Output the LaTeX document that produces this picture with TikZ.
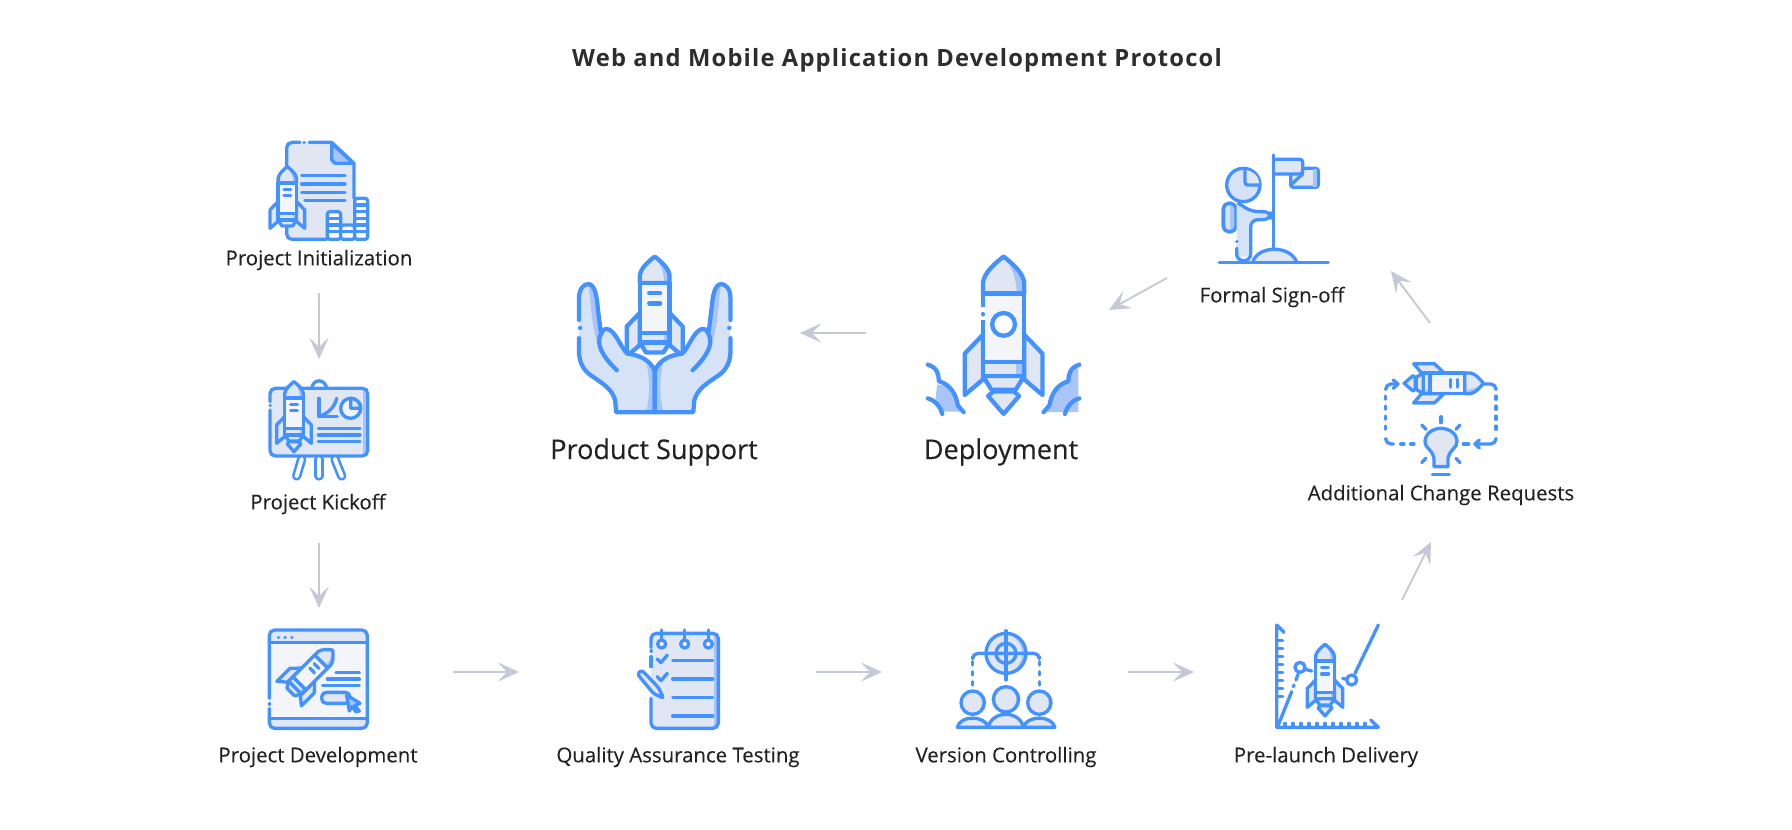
\documentclass[tikz,border=0pt]{standalone}
\usepackage{fontspec}
\setmainfont{Open Sans}
\newfontfamily\labelfont{Open Sans}[FakeBold=0.3]
\usetikzlibrary{arrows.meta}
\definecolor{iconblue}{HTML}{4492FF}
\definecolor{paleblue}{HTML}{E1E6F3}
\definecolor{mistgrey}{HTML}{F4F5F8}
\definecolor{midblue}{HTML}{A9C4F6}
\definecolor{handblue}{HTML}{D6E2F5}
\definecolor{arrowgrey}{HTML}{C5C8D6}
\definecolor{inkgrey}{HTML}{222222}
\tikzset{
  iconline/.style={draw=iconblue,line width=2.5pt,line cap=round,line join=round},
  iconbig/.style={iconline/.append style={line width=3.2pt}},
  dashline/.style={iconline,dash pattern=on 2.5pt off 5pt},
  flow/.style={draw=arrowgrey,line width=1.4pt,-{Stealth[length=16pt,width=14.5pt,inset=7pt]}},
  lbl/.style={inner sep=0.75pt,text=inkgrey,font=\labelfont\fontsize{15.3}{18}\selectfont},
  biglbl/.style={inner sep=0.75pt,text=inkgrey,font=\labelfont\fontsize{20.3}{24}\selectfont},
}
\newcommand{\rockethull}[1]{\begin{scope}[#1]
    \draw[iconline,fill=paleblue] (-60,227) -- (-113,282) -- (-113,402) -- (-60,357) -- cycle;
    \draw[iconline,fill=paleblue] (60,227) -- (113,282) -- (113,402) -- (60,357) -- cycle;
    \draw[iconline,fill=paleblue] (-60,347) -- (-35,387) -- (35,387) -- (60,347) -- cycle;
    \fill[paleblue] (-60,107) -- (-60,75) .. controls (-55,45) and (-25,20) .. (0,0) .. controls (25,20) and (55,45) .. (60,75) -- (60,107) -- cycle;
    \fill[midblue] (0,0) .. controls (25,20) and (55,45) .. (60,75) -- (60,107) -- (38,107) .. controls (38,60) and (20,25) .. (0,0) -- cycle;
    \draw[iconline] (-60,107) -- (-60,75) .. controls (-55,45) and (-25,20) .. (0,0) .. controls (25,20) and (55,45) .. (60,75) -- (60,107) -- cycle;
    \draw[iconline,fill=mistgrey] (-60,107) rectangle (60,307);
    \fill[paleblue] (-60,307) rectangle (60,347);
    \fill[midblue] (36,307) rectangle (60,347);
    \draw[iconline] (-60,307) rectangle (60,347);
\end{scope}}
\newcommand{\rocketwin}[1]{\begin{scope}[#1]
    \draw[iconline] (-22,148) -- (22,148);
    \draw[iconline] (-22,189) -- (22,189);
\end{scope}}
\newcommand{\rocketflame}[1]{\begin{scope}[#1]
    \draw[iconline,fill=paleblue] (-30,392) -- (-45,405) -- (0,457) -- (45,405) -- (30,392) -- cycle;
\end{scope}}
\newcommand{\headball}[3]{\begin{scope}
    \clip (#1,#2) circle (#3);
    \fill[midblue] (#1,#2) circle (#3);
    \fill[paleblue] (#1-#3*0.2,#2) circle (#3);
\end{scope}
\draw[iconline] (#1,#2) circle (#3);}
\newcommand{\handshape}[1]{\begin{scope}[#1]
    \fill[handblue] (275,380) -- (275,500) -- (163,500) -- (160,465) .. controls (150,430) and (120,415) .. (100,400) .. controls (75,385) and (55,365) .. (55,320) -- (55,170) .. controls (55,140) and (70,128) .. (82,128) .. controls (100,128) and (107,160) .. (110,200) -- (118,265) .. controls (125,258) and (130,258) .. (135,258) .. controls (160,260) and (175,310) .. (195,330) .. controls (240,335) and (265,355) .. (275,380) -- cycle;
    \fill[midblue] (248,345) .. controls (262,400) and (262,450) .. (250,500) -- (275,500) -- (275,380) .. controls (268,365) and (258,352) .. (248,345) -- cycle;
    \fill[midblue] (82,128) .. controls (100,128) and (107,160) .. (110,200) -- (118,265) .. controls (112,280) and (108,290) .. (110,300) .. controls (90,250) and (90,170) .. (82,128) -- cycle;
    \draw[iconline] (275,380) -- (275,500) -- (163,500) -- (160,465) .. controls (150,430) and (120,415) .. (100,400) .. controls (75,385) and (55,365) .. (55,320) -- (55,285);
    \draw[iconline] (55,232) -- (55,170) .. controls (55,140) and (70,128) .. (82,128) .. controls (100,128) and (107,160) .. (110,200) -- (118,265);
    \draw[iconline] (165,378) .. controls (120,335) and (105,300) .. (118,275) .. controls (125,258) and (130,258) .. (135,258) .. controls (160,260) and (175,310) .. (195,330) .. controls (240,335) and (265,355) .. (275,380);
\end{scope}}
\newcommand{\cloudshape}[1]{\begin{scope}[#1]
    \draw[iconline] (1068,362) .. controls (1095,370) and (1100,390) .. (1100,410) .. controls (1135,420) and (1150,450) .. (1155,480) -- (1172,500);
    \draw[iconline] (1068,460) .. controls (1090,465) and (1105,485) .. (1110,505);
\end{scope}}
\begin{document}
\begin{tikzpicture}[x=0.75pt,y=0.75pt,yscale=-1,xscale=1]
\path[use as bounding box] (0,0) rectangle (1792,830);

% Title
\node (title) at (897,60) [inner sep=0.75pt,text=inkgrey!95!white,font=\fontsize{17.8}{21}\bfseries\addfontfeatures{LetterSpace=5}] {Web and Mobile Application Development Protocol};

% Text Nodes
\node (lblinit) at (319,260) [lbl] {Project Initialization};
\node (lblkick) at (318,504) [lbl] {Project Kickoff};
\node (lbldev) at (318,757) [lbl] {Project Development};
\node (lblqa) at (678,757) [lbl] {Quality Assurance Testing};
\node (lblver) at (1006,757) [lbl] {Version Controlling};
\node (lblpre) at (1326,757) [lbl] {Pre-launch Delivery};
\node (lblchange) at (1441,495) [lbl] {Additional Change Requests};
\node (lblsign) at (1272,297) [lbl] {Formal Sign-off};
\node (lbldeploy) at (1001,452) [biglbl] {Deployment};
\node (lblsupport) at (654,452) [biglbl] {Product Support};

% Arrow ends
\coordinate (initout) at (319,293);
\coordinate (kickin) at (319,359);
\coordinate (kickout) at (319,543);
\coordinate (devin) at (319,608);
\coordinate (devout) at (453,672);
\coordinate (qain) at (519,672);
\coordinate (qaout) at (816,672);
\coordinate (verin) at (882,672);
\coordinate (verout) at (1128,672);
\coordinate (prein) at (1194,672);
\coordinate (preout) at (1402,600);
\coordinate (changein) at (1431,542);
\coordinate (changeout) at (1430,323);
\coordinate (signin) at (1391,271);
\coordinate (signout) at (1167,278);
\coordinate (deployin) at (1109,310);
\coordinate (deployout) at (866,333);
\coordinate (supportin) at (800,333);

\draw[flow] (initout) -- (kickin);
\draw[flow] (kickout) -- (devin);
\draw[flow] (devout) -- (qain);
\draw[flow] (qaout) -- (verin);
\draw[flow] (verout) -- (prein);
\draw[flow] (preout) -- (changein);
\draw[flow] (changeout) -- (signin);
\draw[flow] (signout) -- (deployin);
\draw[flow] (deployout) -- (supportin);

%Icon: Project Initialization
\begin{scope}[shift={(220,130)},scale=1/3]
\fill[paleblue] (200,37) -- (335,37) -- (402,100) -- (402,328) -- (200,328) -- cycle;
\draw[iconline,rounded corners=4pt] (240,37) -- (200,37) -- (200,110);
\draw[iconline] (252,37) -- (253,37);
\draw[iconline] (268,37) -- (335,37) -- (402,100) -- (402,205);
\draw[iconline,rounded corners=4pt] (200,285) -- (200,328) -- (320,328);
\draw[iconline,fill=midblue] (335,40) -- (335,90) -- (345,100) -- (400,100) -- cycle;
\foreach \ypos in {137,162,187} {
  \draw[iconline] (245,\ypos) -- (375,\ypos);
}
\draw[iconline] (255,212) -- (375,212);
% coin stacks
\draw[iconline,fill=white,rounded corners=2pt] (322,245) rectangle (362,328);
\draw[iconline,fill=white,rounded corners=2pt] (362,285) rectangle (404,328);
\draw[iconline,fill=white,rounded corners=2pt] (404,205) rectangle (443,328);
\foreach \ypos in {265,285,305} {
  \draw[iconline] (322,\ypos) -- (362,\ypos);
}
\draw[iconline] (362,305) -- (404,305);
\foreach \ypos in {225,245,265,285,305} {
  \draw[iconline] (404,\ypos) -- (443,\ypos);
}
\rockethull{shift={(202,110)},scale=.46}
\rocketwin{shift={(202,110)},scale=.46}
\end{scope}

%Icon: Project Kickoff
\begin{scope}[shift={(220,130)},scale=1/3]
\draw[iconline,fill=white] (275,775) .. controls (280,745) and (315,745) .. (320,775);
\fill[paleblue] (150,775) rectangle (443,978);
\fill[midblue] (428,775) rectangle (443,978);
\draw[iconline,rounded corners=4pt] (150,815) -- (150,775) -- (443,775) -- (443,978) -- (150,978) -- (150,840);
\draw[iconline] (150,826) -- (151,826);
\draw[iconline] (297,805) -- (297,860) -- (352,860);
\draw[iconline] (297,860) .. controls (325,850) and (345,830) .. (350,805);
\draw[iconline,fill=mistgrey] (392,835) circle (30);
\draw[iconline,fill=paleblue] (392,835) -- (392,805) .. controls (408,805) and (422,818) .. (422,835) -- cycle;
\foreach \ypos in {895,915,935} {
  \draw[iconline] (295,\ypos) -- (420,\ypos);
}
\foreach \xtop/\xbot in {245/230,297/297,345/365} {
  \draw[iconline,double=white,double distance=3pt,line width=2pt] (\xtop,988) -- (\xbot,1038);
}
\rockethull{shift={(222,755)},scale=.46}
\rocketwin{shift={(222,755)},scale=.46}
\rocketflame{shift={(222,755)},scale=.46}
\end{scope}

%Icon: Project Development
\begin{scope}[shift={(250,610)},scale=1/3]
\fill[mistgrey] (58,60) rectangle (352,355);
\fill[paleblue] (58,60) rectangle (352,97);
\fill[paleblue] (58,325) rectangle (352,355);
\draw[iconline,rounded corners=4pt] (58,265) -- (58,60) -- (352,60) -- (352,355) -- (58,355) -- (58,295);
\draw[iconline] (58,97) -- (352,97);
\draw[iconline] (58,325) -- (352,325);
\draw[iconline] (58,282) -- (59,282);
\foreach \xpos in {85,105,125} {
  \draw[iconline] (\xpos,82) -- (\xpos+1,82);
}
\draw[iconline] (258,187) -- (328,187);
\draw[iconline] (232,207) -- (328,207);
\draw[iconline] (218,227) -- (328,227);
\draw[iconline,fill=paleblue,rounded corners=3.5pt] (215,247) rectangle (300,280);
\draw[iconline,fill=midblue] (290,255) -- (330,280) -- (314,287) -- (328,303) -- (318,305) -- (305,290) -- (298,303) -- cycle;
\rockethull{shift={(248,120)},scale=.46,rotate=45}
\rocketwin{shift={(248,120)},scale=.46,rotate=45}
\end{scope}

%Icon: Quality Assurance Testing
\begin{scope}[shift={(250,610)},scale=1/3]
\fill[paleblue] (1203,70) rectangle (1405,355);
\fill[midblue] (1392,70) rectangle (1405,355);
\draw[iconline,rounded corners=4pt] (1203,112) -- (1203,70) -- (1405,70) -- (1405,355) -- (1203,355) -- (1203,265);
\draw[iconline] (1203,123) -- (1204,123);
\draw[iconline] (1203,140) -- (1203,170);
\foreach \xpos in {1235,1304,1375} {
  \draw[iconline,fill=white] (\xpos,102) circle (12);
  \draw[iconline] (\xpos,60) -- (\xpos,90);
}
\foreach \ypos in {152,207,263,318} {
  \draw[iconline] (1268,\ypos) -- (1388,\ypos);
}
\draw[iconline] (1222,147) -- (1233,158) -- (1252,135);
\draw[iconline] (1222,200) -- (1233,212) -- (1252,190);
\draw[iconline,fill=paleblue,rounded corners=2pt] (1162,192) -- (1175,180) -- (1225,232) -- (1241,265) -- (1210,250) -- cycle;
\end{scope}

%Icon: Version Controlling
\begin{scope}[shift={(920,610)},scale=1/3]
\headball{258}{130}{60}
\headball{258}{130}{30}
\draw[iconline] (258,62) -- (258,210);
\draw[iconline,rounded corners=4pt] (158,140) -- (158,130) -- (358,130) -- (358,140);
\draw[dashline] (158,155) -- (158,235);
\draw[dashline] (358,155) -- (358,235);
\draw[iconline,fill=paleblue] (112,352) .. controls (120,315) and (195,315) .. (205,352) -- cycle;
\draw[iconline,fill=paleblue] (310,352) .. controls (320,315) and (395,315) .. (405,352) -- cycle;
\headball{158}{278}{35}
\headball{358}{278}{35}
\draw[iconline,fill=paleblue] (205,352) .. controls (215,300) and (300,300) .. (310,352) -- cycle;
\headball{258}{268}{38}
\end{scope}

%Icon: Pre-launch Delivery
\begin{scope}[shift={(920,610)},scale=1/3]
\draw[iconline] (1092,67) -- (1070,45) -- (1070,352) -- (1375,352) -- (1352,330);
\foreach \ypos in {92,116,140,164,188,212,236,260} {
  \draw[iconline] (1070,\ypos) -- (1088,\ypos);
}
\foreach \xpos in {1095,1119,...,1335} {
  \draw[iconline] (\xpos,352) -- (\xpos,340);
}
\draw[iconline] (1075,345) -- (1115,245);
\draw[iconline] (1120,230) -- (1122,225);
\draw[iconline] (1128,210) -- (1134,193);
\draw[iconline] (1155,178) -- (1175,183);
\draw[iconline,fill=white] (1140,172) circle (15);
\draw[iconline] (1305,190) -- (1375,45);
\draw[iconline] (1268,205) -- (1280,208);
\draw[iconline,fill=white] (1295,210) circle (15);
\rockethull{shift={(1215,103)},scale=.47}
\rocketwin{shift={(1215,103)},scale=.47}
\rocketflame{shift={(1215,103)},scale=.47}
\end{scope}

%Icon: Additional Change Requests
\begin{scope}[shift={(1180,140)},scale=1/3]
\rockethull{shift={(910,730)},scale=.52,rotate=90}
\rocketwin{shift={(910,730)},scale=.52,rotate=90}
\rocketflame{shift={(910,730)},scale=.52,rotate=90}
\draw[iconline,rounded corners=4pt] (912,732) -- (948,732) -- (948,745);
\draw[dashline] (948,768) -- (948,888);
\draw[iconline,rounded corners=4pt] (948,897) -- (948,912) -- (885,912);
\draw[iconline] (898,900) -- (885,912) -- (898,924);
\draw[iconline] (850,912) -- (866,912);
\draw[iconline,rounded corners=4pt] (617,745) -- (617,732) -- (650,732);
\draw[iconline] (640,720) -- (654,732) -- (640,745);
\draw[dashline] (617,768) -- (617,888);
\draw[iconline,rounded corners=4pt] (617,897) -- (617,912) -- (640,912);
\draw[dashline] (662,912) -- (720,912);
\draw[iconline,fill=paleblue] (762,955) .. controls (755,925) and (735,925) .. (735,905) .. controls (735,880) and (760,865) .. (783,865) .. controls (806,865) and (831,880) .. (831,905) .. controls (831,925) and (811,925) .. (804,955) -- (804,980) -- (762,980) -- cycle;
\draw[iconline] (757,1003) -- (808,1003);
\draw[iconline] (783,830) -- (783,848);
\draw[iconline] (725,855) -- (738,868);
\draw[iconline] (840,855) -- (828,868);
\draw[iconline] (725,968) -- (738,955);
\draw[iconline] (840,968) -- (828,955);
\end{scope}

%Icon: Formal Sign-off
\begin{scope}[shift={(1180,140)},scale=1/3]
\draw[iconline,fill=paleblue,rounded corners=2pt] (332,102) -- (332,142) -- (415,142) -- (415,85) -- (368,85);
\fill[midblue] (398,88) rectangle (412,140);
\draw[iconline,fill=paleblue,rounded corners=2pt] (285,58) -- (368,58) -- (368,102) -- (285,102);
\draw[iconline] (332,135) -- (368,102);
\draw[iconline] (281,45) -- (281,325);
\draw[iconline,fill=paleblue] (218,366) .. controls (235,315) and (330,315) .. (350,366);
\draw[iconline] (118,368) -- (445,368);
\draw[iconline,fill=handblue,rounded corners=4pt] (130,190) rectangle (168,275);
\fill[midblue] (150,195) rectangle (165,272);
\draw[iconline,rounded corners=4pt] (130,190) rectangle (168,275);
\fill[handblue] (170,190) -- (215,215) -- (270,215) -- (270,238) -- (212,240) -- (212,350) -- (170,350) -- cycle;
\draw[iconline,rounded corners=5pt] (175,190) -- (215,215) -- (272,215) -- (272,238) -- (212,240) -- (212,362) -- (170,362) -- (170,325);
\draw[iconline] (170,305) -- (171,305);
\draw[iconline,fill=handblue] (190,135) circle (50);
\fill[paleblue] (195,90) -- (195,135) -- (238,135) .. controls (238,110) and (220,92) .. (195,90) -- cycle;
\draw[iconline,rounded corners=2pt] (195,90) -- (195,135) -- (238,135);
\end{scope}

%Icon: Deployment
\begin{scope}[shift={(560,240)},scale=0.3444,iconbig]
\fill[midblue] (1095,420) .. controls (1130,420) and (1150,450) .. (1165,498) -- (1110,498) .. controls (1105,485) and (1095,472) .. (1090,465) -- cycle;
\fill[midblue] (1505,365) .. controls (1475,375) and (1475,395) .. (1476,410) .. controls (1440,420) and (1425,450) .. (1420,480) -- (1403,500) -- (1505,500) -- cycle;
\cloudshape{}
\cloudshape{shift={(2576,0)},xscale=-1}
\rockethull{shift={(1288,48)}}
\rocketflame{shift={(1288,48)}}
\draw[draw=white,line width=3.5pt] (1228,195) -- (1228,232);
\draw[iconline] (1228,215) -- (1228,216);
\draw[iconline,fill=white] (1288,245) circle (33);
\end{scope}

%Icon: Product Support
\begin{scope}[shift={(560,240)},scale=0.3444,iconbig]
\rockethull{shift={(275,48)},scale=.72}
\rocketwin{shift={(275,48)},scale=.72}
\handshape{}
\handshape{shift={(550,0)},xscale=-1}
\draw[iconline] (58,255) -- (59,255);
\draw[iconline] (492,255) -- (491,255);
\end{scope}

\end{tikzpicture}
\end{document}
